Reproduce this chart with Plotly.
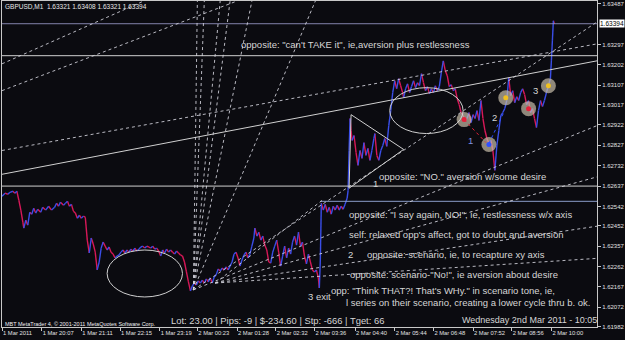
import plotly.graph_objects as go

# ---------------- data ----------------
bars = [0,3,6,8,11,13,15,17,19,21,22,24,26,28,30,32,34,36,39,41,44,47,50,53,55,57,59,62,64,66,68,70,72,74,76,78,80,82,84,86,88,
        90,92,94,96,98,100,102,104,106,108,110,112,114,116,118,120,122,124,126,128,130,132,134,136,138,140,142,144,146,148,150,152,154,156,158,160,162,164,166,168,170,172,174,176,178,180,182,184,186,188,190,192,
        194,196,198,200,202,204,206,208,210,212,214,216,218,220,222,224,226,228,230,232,234,236,238,240,242,244,246,248,250,252,254,255,257,259,261,263,265,267,269,271,273,275,277,279,281,283,285,287,289,291,293,295,297,299,301,303,305,307,309,311,313,315,317,319,320,
        321,322,324,326,328,330,332,334,336,338,340,342,344,346,348,349,350,351,352,353,355,357,359,361,363,365,367,369,371,373,375,376,378,380,382,384,386,388,390,392,394,396,398,400,402,404,405,407,409,411,413,415,417,419,421,423,425,427,429,431,433,435,437,439,441,443,445,447,449,451,453,455,457,459,461,463,465,467,469,471,473,475,477,479,481,483,485,487,489,491,493,495,497,499,501,503,505,507,509,511,513,515,517,519,521,523,525,527,529,531,533,535,537,539,541,543,545,547,549,551,553,554,555,556,557]
prices = [1.62590,1.62604,1.62599,1.62608,1.62613,1.62604,1.62613,1.62571,1.62525,1.62469,1.62441,1.62478,1.62455,1.62515,1.62506,1.62534,1.62511,1.62529,1.62515,1.62538,1.62525,1.62543,1.62525,1.62538,1.62557,1.62543,1.62562,1.62548,1.62557,1.62566,1.62543,1.62552,1.62520,1.62511,1.62487,1.62501,1.62487,1.62497,1.62492,1.62385,1.62325,
          1.62395,1.62367,1.62329,1.62246,1.62283,1.62348,1.62376,1.62357,1.62339,1.62353,1.62329,1.62320,1.62302,1.62311,1.62316,1.62329,1.62339,1.62325,1.62339,1.62329,1.62343,1.62334,1.62348,1.62334,1.62343,1.62353,1.62357,1.62348,1.62357,1.62353,1.62348,1.62357,1.62343,1.62348,1.62334,1.62311,1.62339,1.62325,1.62343,1.62329,1.62339,1.62329,1.62320,1.62334,1.62325,1.62316,1.62311,1.62283,1.62237,1.62190,1.62148,1.62172,
          1.62185,1.62176,1.62195,1.62185,1.62199,1.62185,1.62204,1.62190,1.62209,1.62185,1.62213,1.62223,1.62250,1.62241,1.62255,1.62246,1.62260,1.62246,1.62264,1.62283,1.62320,1.62329,1.62302,1.62264,1.62292,1.62316,1.62329,1.62302,1.62320,1.62357,1.62395,1.62441,1.62404,1.62422,1.62385,1.62404,1.62362,1.62339,1.62283,1.62278,1.62329,1.62357,1.62385,1.62329,1.62264,1.62311,1.62357,1.62302,1.62348,1.62320,1.62376,1.62404,1.62362,1.62422,1.62357,1.62376,1.62311,1.62274,1.62320,1.62283,1.62246,1.62237,1.62246,1.62209,1.62162,
          1.62292,1.62557,1.62525,1.62552,1.62515,1.62538,1.62506,1.62543,1.62525,1.62548,1.62525,1.62543,1.62529,1.62552,1.62580,1.62617,1.62803,1.62952,1.62896,1.62850,1.62873,1.62794,1.62734,1.62803,1.62766,1.62840,1.62780,1.62813,1.62757,1.62803,1.62859,1.62882,1.62780,1.62757,1.62803,1.62826,1.62859,1.62822,1.62919,1.62989,1.63073,1.63128,1.63091,1.63138,1.63105,1.63073,1.63049,1.63091,1.63114,1.63073,1.63101,1.63128,1.63096,1.63119,1.63105,1.63161,1.63119,1.63082,1.63101,1.63068,1.63091,1.63073,1.63105,1.63082,1.63101,1.63166,1.63221,1.63175,1.63152,1.63101,1.63110,1.63082,1.63091,1.63045,1.63017,1.62980,1.62966,1.62943,1.62952,1.62980,1.62933,1.62970,1.62952,1.62989,1.62943,1.63036,1.62952,1.62896,1.62859,1.62836,1.62850,1.62803,1.62710,1.62826,1.62896,1.62966,1.62980,1.62998,1.63036,1.63142,1.63059,1.63082,1.63026,1.63054,1.63036,1.63073,1.63091,1.63064,1.63017,1.63036,1.62980,1.62998,1.62952,1.62910,1.62989,1.63036,1.63008,1.63036,1.63073,1.63105,1.63138,1.63221,1.63314,1.63408,1.63394]

time_bars = [0,40,80,119,159,197,237,276,315,356,396,435,475,514,554]
time_labels = ["1 Mar 2011","1 Mar 20:07","1 Mar 21:11","1 Mar 22:15","1 Mar 23:19","2 Mar 00:23","2 Mar 01:28",
               "2 Mar 02:32","2 Mar 03:36","2 Mar 04:40","2 Mar 05:44","2 Mar 06:48","2 Mar 07:52","2 Mar 08:56","2 Mar 10:00"]
price_ticks = [1.63487,1.63297,1.63202,1.63107,1.63017,1.62922,1.62827,1.62732,1.62637,1.62542,1.62452,
               1.62357,1.62262,1.62167,1.62072,1.61982]
last_price = 1.63394

marker_bars = [466, 491, 508, 531, 551]
marker_prices = [1.62947, 1.62831, 1.63049, 1.62998, 1.63105]
marker_inner = ["#e8203a", "#3050ff", "#f0c020", "#e8203a", "#f0c020"]

BG = "#0b0b10"
TXT = "#d6d6d6"
LINE = "#d0d0d0"
UP = "#3a4ee8"
DN = "#d81858"
FONT = "Liberation Sans"

fig = go.Figure()

# price line coloured by direction
ux, uy, dx, dy = [], [], [], []
for i in range(len(bars) - 1):
    if prices[i + 1] >= prices[i]:
        ux += [bars[i], bars[i + 1], None]; uy += [prices[i], prices[i + 1], None]
    else:
        dx += [bars[i], bars[i + 1], None]; dy += [prices[i], prices[i + 1], None]
fig.add_trace(go.Scatter(x=dx, y=dy, mode="lines", line=dict(color=DN, width=1.4), hoverinfo="skip"))
fig.add_trace(go.Scatter(x=ux, y=uy, mode="lines", line=dict(color=UP, width=1.4), hoverinfo="skip"))

shapes = []
def seg(x0, y0, x1, y1, color=LINE, width=1, dash="solid"):
    shapes.append(dict(type="line", xref="x", yref="y", x0=x0, y0=y0, x1=x1, y1=y1,
                       line=dict(color=color, width=width, dash=dash)))

# horizontal lines
seg(-5, 1.63245, 605, 1.63245)
seg(-5, 1.62637, 605, 1.62637)
seg(-5, last_price, 605, last_price, color="rgba(160,160,210,0.8)")
seg(321, 1.62566, 605, 1.62566, color="#8a9cc8")
# solid trendline
seg(0, 1.62692, 600, 1.63221)
# dotted lines
DOT = "rgba(215,215,225,0.85)"
seg(0, 1.63207, 143, 1.63500, DOT, 1, "dot")
seg(0, 1.63082, 237, 1.63500, DOT, 1, "dot")
seg(0, 1.62803, 600, 1.63300, DOT, 1, "dot")
for xt in [197, 204, 220, 230, 252, 316]:
    seg(193, 1.62153, xt, 1.63500, DOT, 1, "dot")
seg(193, 1.62153, 600, 1.63402, DOT, 1, "dot")
seg(193, 1.62153, 600, 1.62919, DOT, 1, "dot")
seg(215, 1.62185, 323, 1.62571, DOT, 1, "dot")
seg(215, 1.62185, 600, 1.62450, DOT, 1, "dot")
seg(215, 1.62185, 600, 1.62680, DOT, 1, "dot")
seg(215, 1.62185, 600, 1.62300, DOT, 1, "dot")
# triangle
shapes.append(dict(type="path", xref="x", yref="y",
                   path="M 352,1.62970 L 405,1.62808 L 350,1.62627 Z", line=dict(color=LINE, width=1)))
# ellipses
shapes.append(dict(type="circle", xref="x", yref="y", x0=106, x1=182, y0=1.62120, y1=1.62339,
                   line=dict(color=LINE, width=1)))
shapes.append(dict(type="circle", xref="x", yref="y", x0=391, x1=465, y0=1.62882, y1=1.63096,
                   line=dict(color=LINE, width=1)))
# marker connectors
seg(466, 1.62947, 488, 1.62840, "#e8203a", 1, "dot")
seg(491, 1.62836, 506, 1.62980, "#3050ff", 1, "dot")

fig.add_trace(go.Scatter(x=marker_bars, y=marker_prices, mode="markers",
                         marker=dict(size=15, color="rgba(200,190,170,0.7)", line=dict(width=0)), hoverinfo="skip"))
fig.add_trace(go.Scatter(x=marker_bars, y=marker_prices, mode="markers",
                         marker=dict(size=5, color=marker_inner, line=dict(width=0)), hoverinfo="skip"))

ann = []
def txt(x, y, s, size=9.5, color=TXT, xref="x", yref="y", xanchor="left", **kw):
    ann.append(dict(x=x, y=y, xref=xref, yref=yref, text=s, showarrow=False, xanchor=xanchor, yanchor="middle",
                    font=dict(family=FONT, size=size, color=color), **kw))

txt(239, 1.63296, "opposite: \"can't TAKE it\", ie,aversion plus restlessness")
txt(378, 1.62682, "opposite: \"NO.\" aversion w/some desire")
txt(372, 1.62650, "1")
txt(348, 1.62506, "opposite: \"I say again, NO!\", ie, restlessness w/x axis")
txt(348, 1.62413, "self: relaxed opp's affect, got to doubt and aversion")
txt(347, 1.62320, "2")
txt(366, 1.62320, "opposite: scenario, ie, to recapture xy axis")
txt(349, 1.62227, "opposite: scenario-\"No!\", ie aversion about desire")
txt(330, 1.62148, "opp: \"Think THAT?! That's WHy.\" in scenario tone, ie,")
txt(345, 1.62093, "l series on their scenario, creating a lower cycle thru b. ok.")
txt(307, 1.62120, "3 exit")
txt(468, 1.62850, "1", color="#8090e0")
txt(492, 1.62957, "2")
txt(533, 1.63082, "3")

# top-left header and bottom info
txt(0.002, 0.982, "GBPUSD,M1  1.63321 1.63408 1.63321 1.63394", size=6.5, color="#e8e8e8", xref="paper", yref="paper")
txt(0.002, 0.010, "MBT MetaTrader 4, © 2001-2011 MetaQuotes Software Corp.", size=5.5, color="#f0f0f0",
    xref="paper", yref="paper")
txt(0.280, 0.020, "Lot: 23.00 | Pips: -9 | $-234.60 | Stp: -666 | Tget: 66", size=9.4, color=TXT,
    xref="paper", yref="paper")
txt(0.770, 0.020, "Wednesday 2nd Mar 2011 - 10:05", size=9, color=TXT, xref="paper", yref="paper")
# current price tag
ann.append(dict(x=1.0, y=last_price, xref="paper", yref="y", text="1.63394", showarrow=False, xanchor="left",
                yanchor="middle", xshift=2, bgcolor="#ffffff", borderpad=0,
                font=dict(family=FONT, size=6.5, color="#000000")))

fig.update_layout(
    width=625, height=340, margin=dict(l=2, r=23, t=0, b=13),
    paper_bgcolor=BG, plot_bgcolor=BG, showlegend=False,
    shapes=shapes, annotations=ann,
    xaxis=dict(range=[0, 600], showgrid=False, zeroline=False, showline=True, linecolor="#c8c8c8", linewidth=1,
               mirror=True, tickmode="array", tickvals=time_bars, ticktext=time_labels, ticks="outside",
               ticklen=3, tickcolor="#c8c8c8", ticklabelposition="outside right", tickangle=0,
               ticklabelstandoff=0,
               tickfont=dict(family=FONT, size=5.8, color="#e0e0e0"), fixedrange=True),
    yaxis=dict(range=[1.61980, 1.63500], side="right", showgrid=False, zeroline=False, showline=True,
               linecolor="#c8c8c8", linewidth=1, mirror=True, tickmode="array", tickvals=price_ticks,
               ticktext=[f"{p:.5f}" for p in price_ticks], ticks="outside", ticklen=3, tickcolor="#c8c8c8",
               tickfont=dict(family=FONT, size=6, color="#e0e0e0"), fixedrange=True),
)
fig.write_html("out.html")
